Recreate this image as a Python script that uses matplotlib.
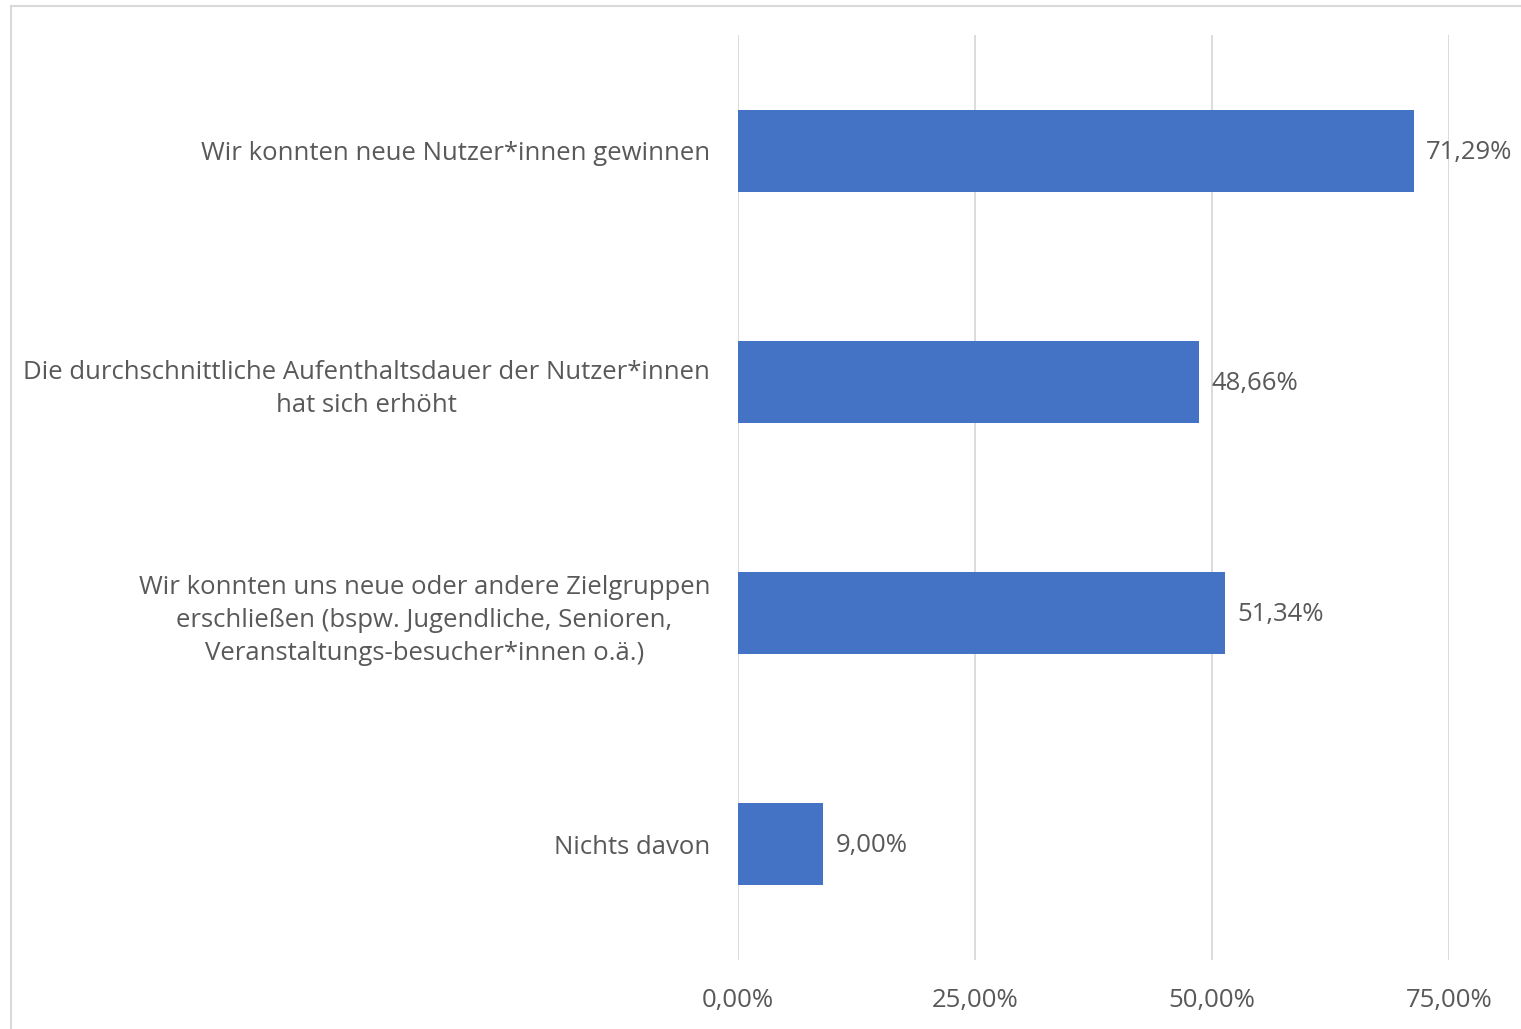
import matplotlib
matplotlib.use("Agg")
import matplotlib.pyplot as plt
from matplotlib.lines import Line2D

plt.rcParams["font.family"] = ["Open Sans", "DejaVu Sans"]

categories = [
    "Wir konnten neue Nutzer*innen gewinnen",
    "Die durchschnittliche Aufenthaltsdauer der Nutzer*innen\nhat sich erhöht",
    "Wir konnten uns neue oder andere Zielgruppen\nerschließen (bspw. Jugendliche, Senioren,\nVeranstaltungs-besucher*innen o.ä.)",
    "Nichts davon",
]
values = [71.29, 48.66, 51.34, 9.00]
xticks = [0, 25, 50, 75]

BAR = "#4472C4"
TEXT = "#595959"
GRID = "#D9D9D9"
FS = 18.5

W, H = 1521, 1029
fig = plt.figure(figsize=(W / 100, H / 100), dpi=100)
ax = fig.add_axes([738 / W, 1 - 960 / H, (1449 - 738) / W, (960 - 35) / H])

y = list(range(len(categories)))
ax.barh(y, values, height=0.355, color=BAR, zorder=3)
ax.set_ylim(len(categories) - 0.5, -0.5)
ax.set_xlim(0, 75)

ax.set_xticks(xticks)
ax.set_xticklabels([f"{t:.2f}%".replace(".", ",") for t in xticks], color=TEXT, fontsize=FS)
ax.set_yticks(y)
ax.set_yticklabels(categories, color=TEXT, fontsize=FS, multialignment="center",
                   linespacing=1.42)
ax.tick_params(axis="both", length=0)
ax.tick_params(axis="y", pad=20)
ax.tick_params(axis="x", pad=20)
ax.grid(axis="x", color=GRID, linewidth=1.3, zorder=0)
for s in ax.spines.values():
    s.set_visible(False)

for yi, v in zip(y, values):
    ax.annotate(f"{v:.2f}%".replace(".", ","), (v, yi), xytext=(9, -1),
                textcoords="offset points", va="center", ha="left",
                color=TEXT, fontsize=FS)

# chart frame (cropped at right and bottom)
fig.add_artist(Line2D([10.5 / W, 10.5 / W], [0, 1 - 6 / H], color=GRID, lw=1.5))
fig.add_artist(Line2D([10.5 / W, 1], [1 - 6 / H, 1 - 6 / H], color=GRID, lw=1.5))

fig.savefig("out.png", dpi=100)
